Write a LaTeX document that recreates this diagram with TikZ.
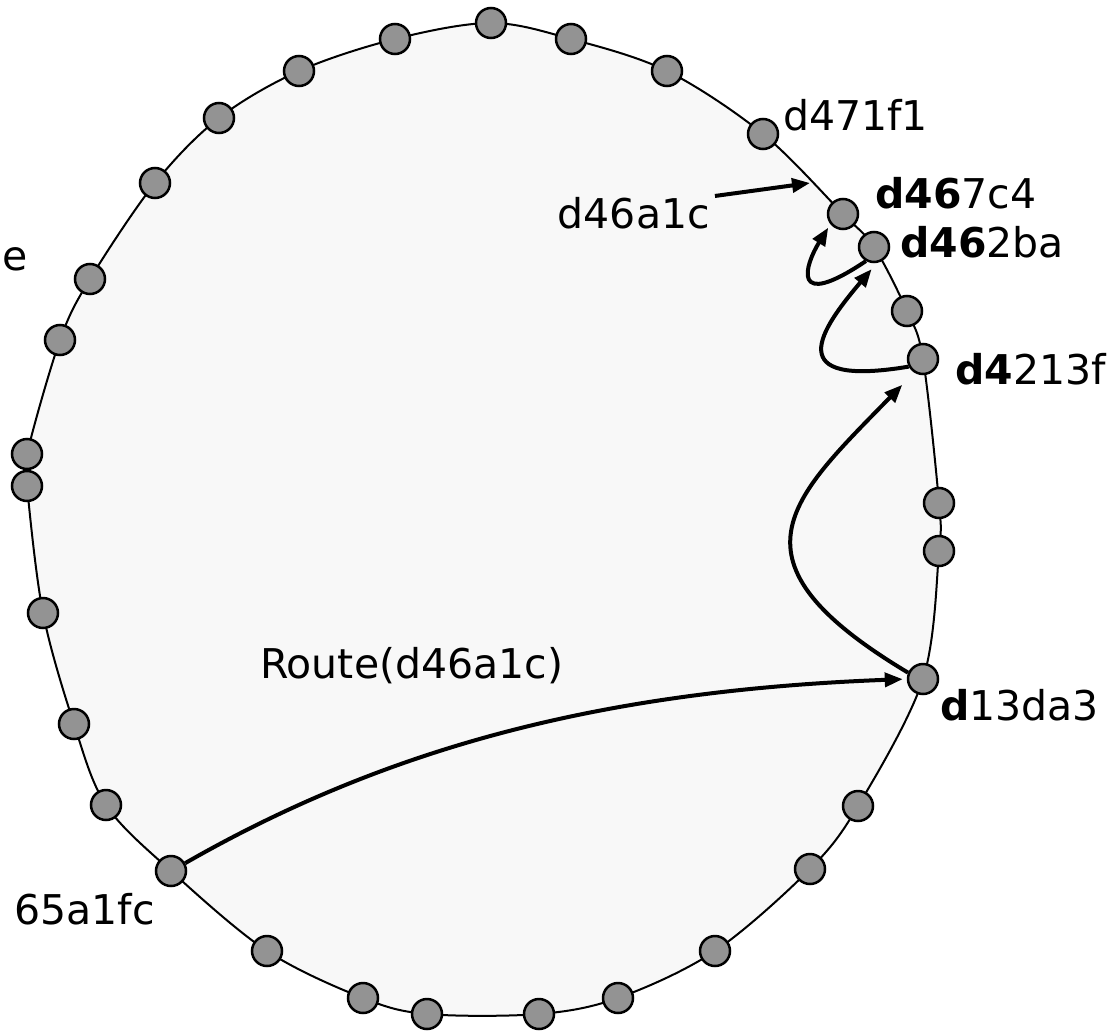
\documentclass[tikz,border=0pt]{standalone}
\usepackage{fontspec}
\setmainfont{DejaVu Sans}
\usetikzlibrary{arrows.meta}
\definecolor{ringfill}{RGB}{248,248,248}
\definecolor{peerfill}{RGB}{147,147,147}
\begin{document}
\begin{tikzpicture}[x=1pt,y=-1pt,
  peer/.style={circle,draw=black,line width=2.5pt,fill=peerfill,minimum size=30pt,inner sep=0pt},
  ring/.style={draw=black,line width=2pt,fill=ringfill},
  hop/.style={line width=4pt,-{Triangle[length=18pt,width=14pt]}},
  lbl/.style={font=\fontsize{41}{49}\selectfont,inner sep=0pt}]
\useasboundingbox (0,0) rectangle (1118,1030);

% positions of the peers on the identifier ring, clockwise from the top
\foreach \i/\x/\y in {
  1/491/23, 2/571/39, 3/667/71, 4/763/134, 5/843/214, 6/874/247,
  7/907/311, 8/923/359, 9/939/503, 10/939/551, 11/923/679, 12/858/806,
  13/810/869, 14/715/951, 15/618/998, 16/539/1014, 17/427/1014,
  18/363/998, 19/267/951, 20/171/871, 21/106/805, 22/74/724, 23/43/613,
  24/27/486, 25/27/454, 26/60/340, 27/90/279, 28/155/183, 29/219/118,
  30/299/71, 31/395/39}
  \coordinate (p\i) at (\x,\y);

% the ring itself
\draw[ring] plot[smooth cycle, tension=0.55] coordinates {
  (p1) (p2) (p3) (p4) (p5) (p6) (p7) (p8) (p9) (p10) (p11) (p12) (p13)
  (p14) (p15) (p16) (p17) (p18) (p19) (p20) (p21) (p22) (p23) (p24)
  (p25) (p26) (p27) (p28) (p29) (p30) (p31)};

% the peers
\foreach \i in {1,...,31}
  \node[peer] (n\i) at (p\i) {};

% key position of d46a1c on the ring
\coordinate (k46a1c) at (810,183);

% labels
\node[lbl,anchor=base west] (l471f1) at (783,130) {d471f1};
\node[lbl,anchor=base east] (l46a1c) at (710,228) {d46a1c};
\node[lbl,anchor=base west] (l467c4) at (875,208) {\textbf{d46}7c4};
\node[lbl,anchor=base west] (l462ba) at (900,257) {\textbf{d46}2ba};
\node[lbl,anchor=base west] (l4213f) at (955,384) {\textbf{d4}213f};
\node[lbl,anchor=base west] (l13da3) at (940,720) {\textbf{d}13da3};
\node[lbl,anchor=base east] (l65a1fc) at (155,924) {65a1fc};
\node[lbl,anchor=base west] (lroute) at (260,678) {Route(d46a1c)};
\node[lbl,anchor=base east] (lcut) at (28,270) {e};

% routing hops
\draw[hop,shorten >=4pt] (n20.29) .. controls (400,740) and (620,690) .. (n11.west);
\draw[hop,shorten >=17pt] (n11.157) .. controls (720,560) and (790,500) .. (n8.237);
\draw[hop,shorten >=8pt] (n8.208) .. controls (780,388) and (820,330) .. (n6.280);
\draw[hop,shorten >=4pt] (n6.240) .. controls (790,312) and (805,265) .. (n5.219);
\draw[hop,shorten <=5pt] (l46a1c.north east) -- (k46a1c);
\end{tikzpicture}
\end{document}
